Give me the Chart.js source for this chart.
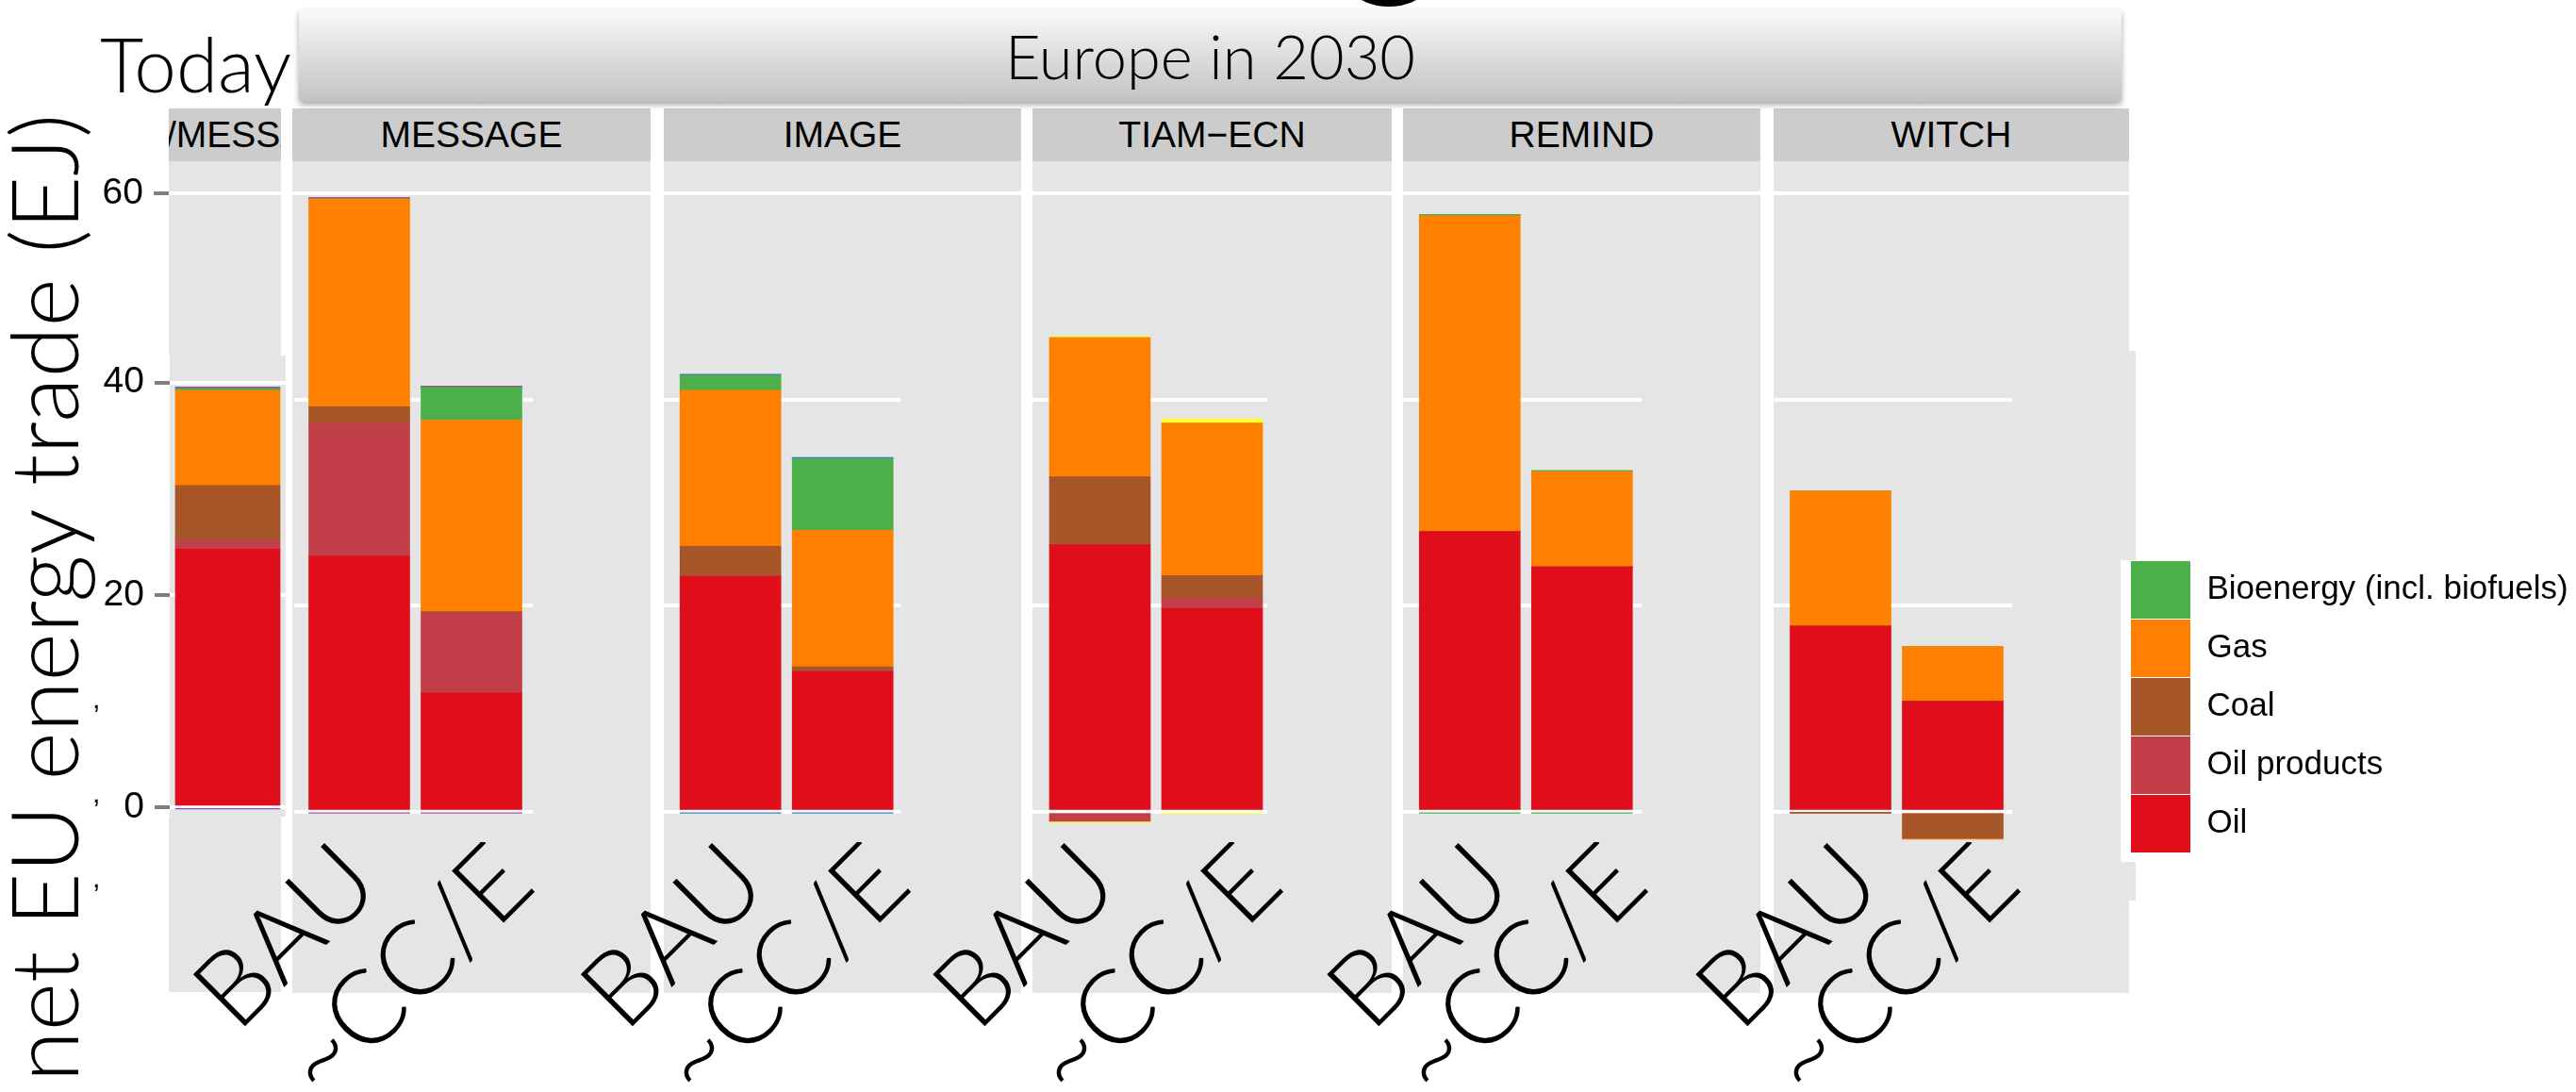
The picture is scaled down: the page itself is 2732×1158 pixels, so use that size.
<!DOCTYPE html>
<html>
<head>
<meta charset="utf-8">
<title>net EU energy trade</title>
<script src="https://cdn.jsdelivr.net/npm/chart.js@4.4.1/dist/chart.umd.min.js"></script>
<style>
  html, body { margin: 0; padding: 0; background: #fff; }
  #page { position: relative; width: 2732px; height: 1158px; overflow: hidden;
          font-family: "Liberation Sans", Arial, sans-serif; }
  .panel { position: absolute; background: #e5e5e5; }
  .strip { position: absolute; background: #cccccc; overflow: hidden; white-space: nowrap;
           display: flex; align-items: center; justify-content: center; font-size: 39px; color: #000; }
  canvas { position: absolute; }
  .thin { position: absolute; font-family: Lato, "Open Sans", sans-serif; font-weight: 300;
          color: #000; white-space: nowrap; line-height: 1; }
  .mark { position: absolute; font-size: 30px; line-height: 1; color: #000; }
  #header { position: absolute; left: 317px; top: 10px; width: 1933px; height: 98px; border-radius: 4px;
            background: linear-gradient(#f9f9f9, #c2c2c2); box-shadow: 0 3px 6px rgba(0,0,0,0.35);
            display: flex; align-items: center; justify-content: center; }
</style>
</head>
<body>
<div id="page">
  <div id="header"><span class="thin" style="position:static;font-size:65px;">Europe in 2030</span></div>
  <div class="thin" style="left:106px;top:27px;font-size:80px;">Today</div>
  <div class="thin" style="left:45px;top:634px;font-size:98px;transform:translate(-50%,-50%) rotate(-90deg);">net EU energy trade (EJ)</div>
  <div class="mark" style="left:98px;top:726px;">,</div>
  <div class="mark" style="left:98px;top:826px;">,</div>
  <div class="mark" style="left:98px;top:916px;">,</div>
  <div style="position:absolute;left:1409px;top:-121px;width:128px;height:128px;border-radius:50%;background:#000;"></div>
</div>
<script>
// ---- data (EJ) -------------------------------------------------------------
// bar order: Today, then BAU / ~CC/E for every model
const models = ['MESSAGE', 'IMAGE', 'TIAM−ECN', 'REMIND', 'WITCH'];
const scenarios = ['BAU', '~CC/E'];
const todayStrip = '/MESSAGE';
const fuels = ['Oil', 'Oil products', 'Coal', 'Gas', 'Bioenergy (incl. biofuels)'];

//                 Today  MES-B  MES-C  IMG-B  IMG-C  TIAM-B TIAM-C REM-B  REM-C  WIT-B  WIT-C
const oil =         [24.3,  24.8,  11.5,  22.85, 13.6,  25.9,  19.7,  27.2,  23.75, 18.0,  10.7];
const oilProducts = [0.8,   12.9,  7.8,   0,     0,     -0.95, 1.05,  0,     0,     0,     0];
const coal =        [5.2,   1.6,   0.1,   2.9,   0.45,  6.6,   2.15,  0,     0,     -0.08, -2.6];
const gas =         [8.95,  20.2,  18.6,  15.15, 13.25, 13.5,  14.8,  30.65, 9.25,  13.1,  5.3];
const bio =         [0.2,   0,     3.2,   1.45,  6.95,  0,     0,     0.1,   0.1,   0,     0];
const otherIn =     [0.12,  0.12,  0.12,  0.12,  0.12,  0.12,  0.43,  0,     0,     0,     0];
const otherOut =    [-0.12, -0.12, -0.12, -0.12, -0.12, -0.12, -0.12, -0.12, -0.12, -0.08, -0.1];

const upperTicks = [60];
const lowerTicks = [0, 20, 40];

// ---- styles -------------------------------------------------------------
const fuelColors = ['#E00E1B', '#C23F4A', '#A65628', '#FF7F00', '#4DAF4A'];
const otherColors = { Today: '#984EA3', MESSAGE: '#984EA3', IMAGE: '#377EB8',
                      'TIAM−ECN': '#FFFF33', REMIND: '#4DAF4A', WITCH: '#FF7F00' };
const seriesValues = [oil, oilProducts, coal, gas, bio, otherIn, otherOut];
const seriesNames = [...fuels, 'Other', 'Other'];

// value-to-pixel mappings of the two source scales
const MAIN = { zeroY: 860.5, px: 10.92 };
const TODAY = { zeroY: 856, px: 11.26 };
const valueAt = (m, y) => (m.zeroY - y) / m.px;

// facet geometry (page pixels); labelAt = where each scenario label is anchored
const UNIT = 119;
const facets = [
  { left: 310,  right: 690,  gridLeft: 312,  gridRight: 565,  c1: 381,    labelAt: [381.5, 546] },
  { left: 704,  right: 1083, gridLeft: 704,  gridRight: 955,  c1: 774.7,  labelAt: [792.5, 945] },
  { left: 1095, right: 1476, gridLeft: 1095, gridRight: 1344, c1: 1166.5, labelAt: [1166, 1340] },
  { left: 1488, right: 1867, gridLeft: 1488, gridRight: 1741, c1: 1558.8, labelAt: [1584, 1727] },
  { left: 1881, right: 2258, gridLeft: 1881, gridRight: 2134, c1: 1952,   labelAt: [1975, 2122] },
];

const page = document.getElementById('page');

function box(cls, l, t, r, b, text, textLeft) {
  const d = document.createElement('div');
  d.className = cls;
  Object.assign(d.style, { left: l + 'px', top: t + 'px', width: (r - l) + 'px', height: (b - t) + 'px' });
  if (text !== undefined) {
    if (textLeft !== undefined) {
      d.style.justifyContent = 'flex-start';
      const s = document.createElement('span');
      s.style.marginLeft = textLeft + 'px';
      s.textContent = text;
      d.appendChild(s);
    } else {
      d.textContent = text;
    }
  }
  page.insertBefore(d, page.firstChild);
  return d;
}

// panel backgrounds and strips
box('strip', 179, 115, 298, 171, todayStrip, -3);
box('panel', 179, 171, 298, 377);
box('panel', 180, 377, 303, 866);
box('panel', 179, 866, 298, 1052);
facets.forEach((f, i) => {
  box('strip', f.left, 115, f.right, 171, models[i]);
  if (i === facets.length - 1) {
    box('panel', f.left, 171, f.right, 372);
    box('panel', f.left, 372, 2265, 955);
    box('panel', f.left, 955, f.right, 1053);
  } else {
    box('panel', f.left, 171, f.right, 1053);
  }
});

function addCanvas(x, y, w, h) {
  const cv = document.createElement('canvas');
  cv.width = w; cv.height = h;
  Object.assign(cv.style, { left: x + 'px', top: y + 'px', width: w + 'px', height: h + 'px' });
  page.appendChild(cv);
  return cv;
}

function piece(cfg) {
  const { x, y, w, h, area, map, ticks, yAxisW, showY, barIdx, xMin, xMax, showX, thickness, panel, labelAt } = cfg;
  const cv = addCanvas(x, y, w, h);
  const xAxisH = showX ? (y + h - area.bottom) : 0;
  const padding = {
    left: area.left - x - yAxisW,
    top: area.top - y,
    right: x + w - area.right,
    bottom: y + h - area.bottom - xAxisH,
  };
  const datasets = seriesValues.map((vals, si) => ({
    label: seriesNames[si],
    data: barIdx.map((bi, k) => ({ x: k + 1, y: vals[bi] })),
    backgroundColor: si < fuels.length ? fuelColors[si] : otherColors[panel],
    barThickness: thickness,
    borderWidth: 0,
    clip: 0,
  }));
  // tick (label) values on the x scale from the label anchor pixels
  const pxToX = (px) => xMin + (px - area.left) / (area.right - area.left) * (xMax - xMin);
  return new Chart(cv, {
    type: 'bar',
    data: { datasets },
    options: {
      responsive: false, animation: false, devicePixelRatio: 1,
      layout: { padding },
      plugins: { legend: { display: false }, tooltip: { enabled: false } },
      scales: {
        x: {
          type: 'linear', stacked: true, min: xMin, max: xMax, offset: false, display: showX,
          grid: { display: false, offset: false }, border: { display: false },
          afterBuildTicks: (s) => {
            s.ticks = barIdx.map((_, k) => ({ value: labelAt ? pxToX(labelAt[k]) : k + 1 }));
          },
          ticks: {
            autoSkip: false, minRotation: 45, maxRotation: 45, padding: -31, labelOffset: 0,
            color: '#000', font: { family: 'Lato', weight: '300', size: 110 },
            callback: (v, i) => scenarios[i],
          },
          afterFit: (s) => { s.height = xAxisH; s.paddingLeft = 0; s.paddingRight = 0; s.paddingTop = 0; s.paddingBottom = 0; },
        },
        y: {
          type: 'linear', stacked: true, min: valueAt(map, area.bottom), max: valueAt(map, area.top),
          grid: { color: '#ffffff', lineWidth: 4, drawTicks: showY, tickLength: 16, tickColor: '#7f7f7f', tickWidth: 4 },
          border: { display: false },
          afterBuildTicks: (s) => { s.ticks = ticks.map((v) => ({ value: v })); },
          ticks: {
            display: showY, padding: 11, color: '#000',
            font: { family: 'Liberation Sans', size: 39 },
            callback: (v) => String(v),
          },
          afterFit: (s) => { s.width = yAxisW; s.paddingLeft = 0; s.paddingRight = 0; s.paddingTop = 0; s.paddingBottom = 0; },
        },
      },
    },
  });
}

// "Today" facet: upper strip shares the model scale, lower part has its own scale
piece({ x: 100, y: 171, w: 198, h: 206, area: { left: 179, right: 298, top: 171, bottom: 377 },
        map: MAIN, ticks: upperTicks, yAxisW: 79, showY: true, barIdx: [0], xMin: 0.5, xMax: 1.5,
        showX: false, thickness: 111, panel: 'Today' });
piece({ x: 100, y: 377, w: 203, h: 675, area: { left: 180, right: 303, top: 377, bottom: 1052 },
        map: TODAY, ticks: lowerTicks, yAxisW: 80, showY: true, barIdx: [0], xMin: 0.5, xMax: 1.5,
        showX: false, thickness: 111, panel: 'Today' });

// model facets
facets.forEach((f, m) => {
  const barIdx = [1 + 2 * m, 2 + 2 * m];
  const upMin = 1 - (f.c1 - f.left) / UNIT;
  piece({ x: f.left, y: 171, w: f.right - f.left, h: 201, area: { left: f.left, right: f.right, top: 171, bottom: 372 },
          map: MAIN, ticks: upperTicks, yAxisW: 0, showY: false, barIdx,
          xMin: upMin, xMax: upMin + (f.right - f.left) / UNIT, showX: false, thickness: 107, panel: models[m] });
  const loMin = 1 - (f.c1 - f.gridLeft) / UNIT;
  const cx = f.gridLeft - 300;
  piece({ x: cx, y: 372, w: f.right - cx, h: 1158 - 372, area: { left: f.gridLeft, right: f.gridRight, top: 372, bottom: 893 },
          map: MAIN, ticks: lowerTicks, yAxisW: 0, showY: false, barIdx,
          xMin: loMin, xMax: loMin + (f.gridRight - f.gridLeft) / UNIT, showX: true, thickness: 107,
          panel: models[m], labelAt: f.labelAt });
});

// legend
(function () {
  const cv = addCanvas(2249, 594, 483, 320);
  cv.style.background = '#ffffff';
  new Chart(cv, {
    type: 'bar',
    data: { datasets: fuels.map((f, i) => ({ label: f, data: [], backgroundColor: fuelColors[i], borderWidth: 0 })) },
    options: {
      responsive: false, animation: false, devicePixelRatio: 1,
      layout: { padding: { left: 10, top: 0, right: 0, bottom: 0 } },
      scales: { x: { display: false }, y: { display: false } },
      plugins: {
        tooltip: { enabled: false },
        legend: {
          position: 'left', align: 'start', reverse: true, maxWidth: 470,
          labels: { boxWidth: 63, boxHeight: 61, padding: 1, color: '#000',
                    font: { family: 'Liberation Sans', size: 35 } },
        },
      },
    },
  });
})();
</script>
</body>
</html>
